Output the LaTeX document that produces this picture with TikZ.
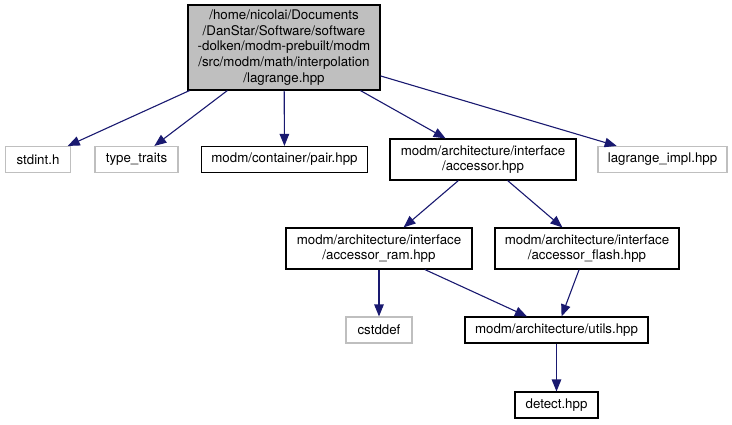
\documentclass[tikz,border=0pt]{standalone}
\usepackage{fontspec}
\setmainfont{TeX Gyre Heros}
\usetikzlibrary{arrows.meta}
\definecolor{edgeblue}{HTML}{191970}
\definecolor{greyline}{HTML}{BFBFBF}
\begin{document}
\begin{tikzpicture}[x=1pt, y=-1pt,
  every node/.style={font=\fontsize{13.3}{15.6}\selectfont, inner sep=0pt, align=center},
  file/.style={draw=black, line width=1.1pt, minimum height=26pt},
  extfile/.style={draw=greyline, line width=1.1pt, minimum height=26pt},
  dep/.style={draw=edgeblue, line width=1.1pt, -{Triangle[length=12pt,width=9.5pt]}, edgeblue}]
  \useasboundingbox (0,0) rectangle (732,424);
  % the header itself
  \node[file, fill=greyline, minimum width=192pt, minimum height=85pt] (root) at (284,47.5)
    {/home/nicolai/Documents\\/DanStar/Software/software\\-dolken/modm-prebuilt/modm\\/src/modm/math/interpolation\\/lagrange.hpp};
  % direct includes
  \node[extfile, minimum width=65.5pt] (stdint) at (38,159.5) {stdint.h};
  \node[extfile, minimum width=83pt] (traits) at (136.5,159.5) {type\_traits};
  \node[file, minimum width=166pt] (pair) at (284.5,159.5) {modm/container/pair.hpp};
  \node[file, minimum width=186pt, minimum height=41pt] (accessor) at (483,159.5)
    {modm/architecture/interface\\/accessor.hpp};
  \node[extfile, minimum width=129pt] (impl) at (662.5,159.5) {lagrange\_impl.hpp};
  % accessor backends
  \node[file, minimum width=186pt, minimum height=41pt] (ram) at (379,248.5)
    {modm/architecture/interface\\/accessor\_ram.hpp};
  \node[file, minimum width=184pt, minimum height=41pt] (flash) at (587,248.5)
    {modm/architecture/interface\\/accessor\_flash.hpp};
  \node[extfile, minimum width=66pt] (cstddef) at (379,330) {cstddef};
  \node[file, minimum width=183pt] (utils) at (556.5,330) {modm/architecture/utils.hpp};
  \node[file, minimum width=83pt] (detect) at (556.5,405) {detect.hpp};

  \draw[dep] (root) -- (stdint);
  \draw[dep] (root) -- (traits);
  \draw[dep] (root) -- (pair);
  \draw[dep] (root) -- (accessor);
  \draw[dep] (root) -- (impl);
  \draw[dep] (accessor) -- (ram);
  \draw[dep] (accessor) -- (flash);
  \draw[dep] (ram) -- (cstddef);
  \draw[dep] (ram) -- (utils);
  \draw[dep] (flash) -- (utils);
  \draw[dep] (utils) -- (detect);
\end{tikzpicture}
\end{document}
